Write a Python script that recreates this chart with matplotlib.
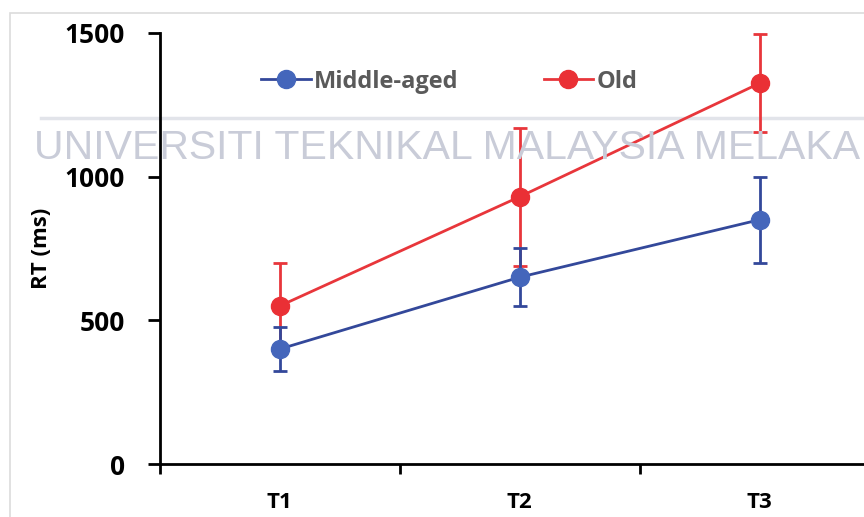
import matplotlib.pyplot as plt
from matplotlib.lines import Line2D

# values
times = ["T1", "T2", "T3"]
middle_aged = [400, 650, 850]
middle_aged_err = [75, 100, 150]
old = [550, 930, 1325]
old_err = [150, 240, 170]
yticks = [0, 500, 1000, 1500]

blue_line = "#33489a"
blue_dot = "#4466bb"
red_line = "#e8363b"
red_dot = "#ea3035"

plt.rcParams['font.family'] = ['Open Sans', 'DejaVu Sans']

fig = plt.figure(figsize=(8.64, 5.17), dpi=100)

# faint frame + watermark behind the plot
fig.patches.append(plt.Rectangle((0.012, -0.02), 1.2, 0.995, transform=fig.transFigure,
                                 fill=False, edgecolor="#dcdcdc", lw=1.2, zorder=0))
fig.add_artist(plt.Line2D([0.048, 1.0], [0.772, 0.772], color="#e2e4ea", lw=2.5, zorder=0))
fig.text(0.518, 0.714, "UNIVERSITI TEKNIKAL MALAYSIA MELAKA", ha="center", va="center",
         fontsize=29.5, color="#c9ccd8", family="Liberation Sans", zorder=0)

ax = fig.add_axes([0.185, 0.1025, 0.8333, 0.834])
ax.patch.set_alpha(0)
x = [1, 2, 3]

ax.errorbar(x, old, yerr=old_err, color=red_line, lw=2, capsize=5,
            capthick=2, marker="o", markersize=13, markerfacecolor=red_dot,
            markeredgecolor=red_dot, clip_on=False, zorder=3)
ax.errorbar(x, middle_aged, yerr=middle_aged_err, color=blue_line, lw=2, capsize=5,
            capthick=2, marker="o", markersize=13, markerfacecolor=blue_dot,
            markeredgecolor=blue_dot, clip_on=False, zorder=4)

ax.set_xlim(0.5, 3.5)
ax.set_ylim(0, 1500)
ax.set_yticks(yticks)
ax.set_yticklabels([str(v) for v in yticks], fontsize=19, fontweight="bold")
ax.set_xticks([0.5, 1.5, 2.5, 3.5])
ax.set_xticklabels([])
ax.set_xticks(x, minor=True)
ax.set_xticklabels(times, minor=True, fontsize=16, fontweight="bold")
ax.tick_params(axis="x", which="minor", length=0, pad=20)
ax.tick_params(axis="x", which="major", length=7, width=2, direction="out")
ax.tick_params(axis="y", length=9, width=2, direction="out", pad=16)

for s in ["top", "right"]:
    ax.spines[s].set_visible(False)
for s in ["left", "bottom"]:
    ax.spines[s].set_linewidth(2)

ax.set_ylabel("RT (ms)", fontsize=16, fontweight="bold", labelpad=9)

handles = [Line2D([], [], color=blue_line, lw=2, marker="o", markersize=13,
                  markerfacecolor=blue_dot, markeredgecolor=blue_dot),
           Line2D([], [], color=red_line, lw=2, marker="o", markersize=13,
                  markerfacecolor=red_dot, markeredgecolor=red_dot)]
leg = fig.legend(handles, ["Middle-aged", "Old"], loc="center", bbox_to_anchor=(0.52, 0.842),
                 ncol=2, frameon=False, fontsize=17, handlelength=2.1, columnspacing=3.6,
                 handletextpad=0.15)
for t in leg.get_texts():
    t.set_color("#5a5a5a")
    t.set_fontweight("bold")

fig.savefig("out.png", dpi=100)
